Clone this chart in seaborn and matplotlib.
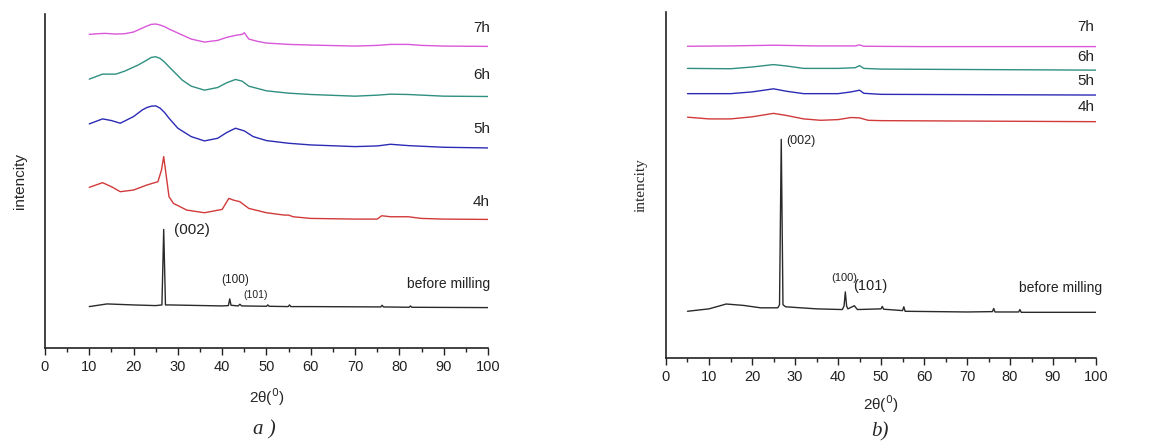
import matplotlib
matplotlib.use("Agg")
import matplotlib.pyplot as plt
from matplotlib.ticker import MultipleLocator
import seaborn as sns

sns.set_style("white")
plt.rcParams['font.family'] = ['Liberation Sans', 'DejaVu Sans']

# ---------------- panel a) data (intensity in arbitrary, offset units) ----------------
a_x_7h = [10, 12, 13.5, 16, 18, 20, 22, 23, 24, 25, 26, 27, 28, 30, 33, 36, 39, 41, 43, 44.5, 45, 46, 48, 50, 55, 60, 70, 75, 78, 82, 85, 90, 100]
a_y_7h = [93.9, 94.1, 94.2, 94.0, 94.1, 94.6, 95.8, 96.4, 96.9, 97.0, 96.7, 96.2, 95.5, 94.3, 92.5, 91.6, 92.1, 93.0, 93.6, 93.9, 94.4, 92.5, 91.8, 91.3, 90.9, 90.7, 90.4, 90.6, 90.9, 90.9, 90.6, 90.4, 90.3]

a_x_6h = [10, 13, 16, 18, 21, 23, 24, 25, 26, 27, 28, 29.5, 31, 33, 36, 39, 41, 43, 44.5, 46, 50, 55, 60, 70, 75, 78, 82, 90, 100]
a_y_6h = [80.5, 82.0, 82.0, 82.9, 84.7, 86.2, 87.0, 87.2, 86.7, 85.6, 84.2, 82.2, 80.2, 78.4, 77.2, 78.0, 79.4, 80.4, 79.9, 78.4, 77.0, 76.3, 75.9, 75.4, 75.7, 76.0, 75.9, 75.4, 75.3]

a_x_5h = [10, 13, 15, 17, 20, 22, 23, 24, 25, 26, 27, 28, 29, 30, 33, 36, 39, 41, 43, 45, 47, 50, 55, 60, 70, 75, 78, 82, 90, 100]
a_y_5h = [67.1, 68.6, 68.1, 67.3, 69.3, 71.3, 72.0, 72.4, 72.5, 71.8, 70.5, 68.8, 67.3, 65.8, 63.3, 62.0, 62.8, 64.5, 65.8, 65.0, 63.3, 62.1, 61.3, 60.8, 60.3, 60.5, 61.0, 60.6, 60.1, 59.9]

a_x_4h = [10, 13, 15, 17, 20, 23, 25.5, 26.3, 26.8, 27.3, 28, 29, 32, 36, 40, 41.5, 42.5, 44, 46, 50, 54, 55, 56, 60, 70, 75, 76, 78, 82, 85, 90, 100]
a_y_4h = [48.1, 49.5, 48.3, 46.8, 47.3, 48.8, 49.8, 53.3, 57.3, 52.3, 45.3, 43.3, 41.3, 40.5, 41.5, 44.8, 44.3, 43.8, 41.8, 40.5, 39.8, 39.8, 39.3, 38.8, 38.6, 38.6, 39.6, 39.3, 39.3, 38.8, 38.6, 38.5]

a_x_bm = [10, 14, 20, 25, 26.4, 26.8, 27.2, 28, 40, 41.4, 41.7, 42.0, 43.6, 44.0, 44.4, 50.0, 50.3, 50.6, 54.9, 55.2, 55.5, 60, 75.8, 76.1, 76.4, 82.2, 82.5, 82.8, 100]
a_y_bm = [12.4, 13.2, 12.9, 12.7, 12.9, 35.5, 12.9, 12.9, 12.6, 12.7, 14.7, 12.8, 12.6, 13.1, 12.6, 12.5, 12.9, 12.5, 12.4, 12.9, 12.4, 12.4, 12.3, 12.8, 12.3, 12.2, 12.6, 12.2, 12.1]

# ---------------- panel b) data ----------------
b_x_7h = [5, 15, 25, 35, 44, 45, 46, 60, 100]
b_y_7h = [90.1, 90.2, 90.4, 90.2, 90.2, 90.5, 90.1, 90.0, 90.0]

b_x_6h = [5, 15, 20, 25, 28, 32, 40, 44, 45, 46, 50, 100]
b_y_6h = [83.7, 83.6, 84.1, 84.8, 84.4, 83.7, 83.7, 83.9, 84.5, 83.7, 83.5, 83.2]

b_x_5h = [5, 15, 20, 25, 28, 32, 40, 43, 45, 46, 50, 100]
b_y_5h = [76.4, 76.4, 76.9, 77.8, 77.1, 76.4, 76.4, 76.9, 77.4, 76.5, 76.2, 76.0]

b_x_4h = [5, 10, 15, 20, 25, 28, 32, 36, 40, 43, 45, 47, 50, 100]
b_y_4h = [69.6, 69.1, 69.1, 69.7, 70.7, 70.1, 69.1, 68.7, 68.9, 69.5, 69.4, 68.7, 68.6, 68.3]

b_x_bm = [5, 10, 14, 18, 22, 26, 26.4, 26.8, 27.2, 27.8, 35, 41, 41.4, 41.7, 42.0, 42.3, 43.8, 44.5, 50.0, 50.3, 50.6, 55.0, 55.3, 55.6, 70, 75.9, 76.2, 76.5, 82.0, 82.3, 82.6, 100]
b_y_bm = [13.5, 14.2, 15.6, 15.2, 14.5, 14.5, 15.4, 63.2, 15.4, 14.8, 14.2, 14.0, 15.0, 19.1, 15.0, 14.2, 15.1, 14.0, 14.2, 14.9, 14.1, 13.7, 14.8, 13.5, 13.3, 13.4, 14.3, 13.3, 13.3, 14.0, 13.2, 13.2]

colors = {"7h": "#d957d9", "6h": "#2f8f80", "5h": "#2b2bb5", "4h": "#d23a3a", "bm": "#2a2a2a"}

fig = plt.figure(figsize=(11.68, 4.43), dpi=100)
axa = fig.add_axes([0.0385, 0.2144, 0.3793, 0.754])
axb = fig.add_axes([0.5702, 0.1919, 0.3682, 0.781])

def style_axes(ax):
    ax.set_xlim(0, 100)
    ax.set_ylim(0, 100)
    for s in ["top", "right"]:
        ax.spines[s].set_visible(False)
    for s in ["left", "bottom"]:
        ax.spines[s].set_color("#222222")
        ax.spines[s].set_linewidth(1.2)
    ax.set_yticks([])
    ax.xaxis.set_major_locator(MultipleLocator(10))
    ax.xaxis.set_minor_locator(MultipleLocator(5))
    ax.tick_params(axis="x", which="major", direction="out", length=5, width=1, colors="#222222", labelsize=10.5, bottom=True)
    ax.tick_params(axis="x", which="minor", direction="out", length=3, width=1, colors="#222222", bottom=True)
    ax.grid(False)

for ax, series in [
    (axa, [(a_x_7h, a_y_7h, "7h"), (a_x_6h, a_y_6h, "6h"), (a_x_5h, a_y_5h, "5h"), (a_x_4h, a_y_4h, "4h"), (a_x_bm, a_y_bm, "bm")]),
    (axb, [(b_x_7h, b_y_7h, "7h"), (b_x_6h, b_y_6h, "6h"), (b_x_5h, b_y_5h, "5h"), (b_x_4h, b_y_4h, "4h"), (b_x_bm, b_y_bm, "bm")]),
]:
    for xs, ys, key in series:
        sns.lineplot(x=xs, y=ys, ax=ax, color=colors[key], linewidth=1.0, estimator=None, sort=False)
    style_axes(ax)

# panel a labels
axa.set_xlabel("2θ($^{0}$)", fontsize=11, labelpad=9)
axa.set_ylabel("intencity", fontsize=11, labelpad=13)
for txt, yy in [("7h", 95.8), ("6h", 81.7), ("5h", 65.6), ("4h", 43.7)]:
    axa.text(98.5, yy, txt, fontsize=11, ha="center", va="center", color="#222222")
axa.text(100.5, 19.2, "before milling", fontsize=10, ha="right", va="center", color="#222222", clip_on=False)
axa.text(29.2, 35.3, "(002)", fontsize=11, ha="left", va="center", color="#222222")
axa.text(42.9, 20.4, "(100)", fontsize=8.5, ha="center", va="center", color="#222222")
axa.text(47.6, 15.9, "(101)", fontsize=7.5, ha="center", va="center", color="#222222")
fig.text(264 / 1168, 1 - 430 / 443, "a )", fontsize=15, style="italic", family="Liberation Serif", ha="center", va="center")

# panel b labels
axb.set_xlabel("2θ($^{0}$)", fontsize=11, labelpad=7)
axb.set_ylabel("intencity", fontsize=11, labelpad=13, family="Liberation Serif")
for txt, yy in [("7h", 95.6), ("6h", 87.1), ("5h", 80.0), ("4h", 72.5)]:
    axb.text(97.6, yy, txt, fontsize=11, ha="center", va="center", color="#222222")
axb.text(101.5, 20.3, "before milling", fontsize=10, ha="right", va="center", color="#222222", clip_on=False)
axb.text(28.0, 62.7, "(002)", fontsize=9, ha="left", va="center", color="#222222")
axb.text(41.4, 23.1, "(100)", fontsize=8, ha="center", va="center", color="#222222")
axb.text(47.5, 20.9, "(101)", fontsize=10.5, ha="center", va="center", color="#222222")
fig.text(880 / 1168, 1 - 432 / 443, "b)", fontsize=15, style="italic", family="Liberation Serif", ha="center", va="center")

fig.savefig("out.png", dpi=100)
